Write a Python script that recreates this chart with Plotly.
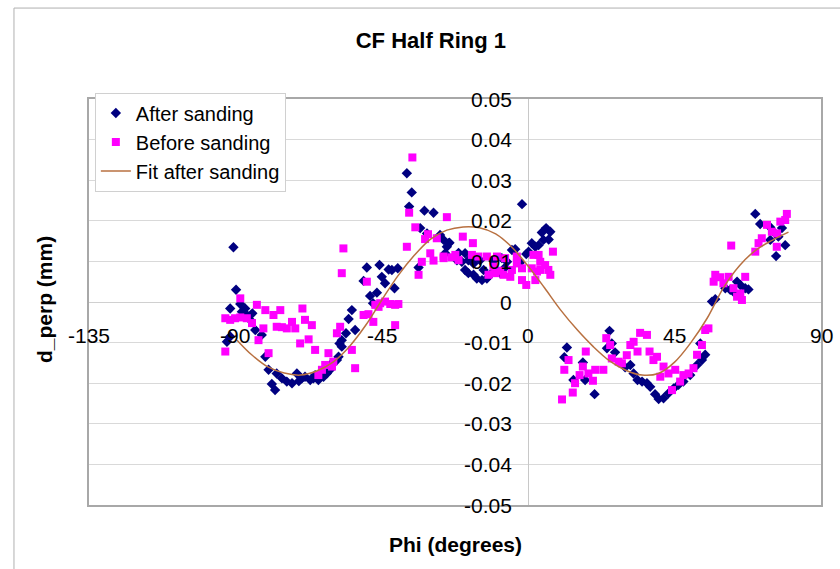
import plotly.graph_objects as go

# ---------------- data ----------------
after_phi = [
    -90.6, -89.8, -91.6, -88.5, -87.0, -88.0, -86.5, -84.8, -85.5, -83.9, -92.6, -91.6, -81.9, -80.8,
    -79.8, -77.3, -78.8, -77.8, -75.7, -74.2, -72.6, -71.1, -69.6, -68.6, -67.0, -65.5, -64.5, -62.9,
    -61.9, -60.9, -59.9, -58.3, -57.3, -70.5, -66.0,
    -37.3, -35.8, -36.6, -31.9, -29.1, -33.2, -31.1, -27.1, -24.5, -25.5, -21.9, -33.7, -49.6, -45.7,
    -42.9, -41.9, -40.1, -45.0, -50.6, -44.0, -41.1, -46.5, -48.6, -47.7, -54.2, -55.2, -53.2, -56.0,
    -57.3, -58.0, -58.8, -60.3,
    -1.9, 5.5, 4.2, 6.8, 6.3, 4.7, 3.2, 2.2, 1.1, 0.1, -0.6, -4.0, -5.0, -2.5, -26.0, -24.2, -25.0,
    -21.4, -19.4, -20.4, -18.4, -16.8, -14.8, -10.7, -8.1, -6.5, -19.4, -18.4, -16.8, -15.8, -14.2,
    -12.7, -11.7, -10.1, -8.6, -7.1, -13.7,
    11.9, 11.1, 16.8, 13.9, 17.5, 20.4, 25.0, 24.2, 26.7, 25.7, 29.8, 31.4, 32.4, 33.6, 35.0, 36.5,
    37.5, 39.0, 40.1, 41.6, 43.1, 44.7, 46.2, 47.7, 49.8, 51.9, 53.4, 54.4, 52.9,
    69.8, 71.3, 74.4, 78.0, 76.9, 74.4, 79.0, 76.2, 75.9, 64.2, 65.2, 66.7, 67.7, 62.1, 60.6, 63.1,
    57.5, 56.5,
]
after_d = [
    0.0135, 0.0030, -0.0016, -0.0005, -0.0016, -0.0024, -0.0032, -0.0028, -0.0044, -0.0069, -0.0098, -0.0085, -0.0081, -0.0135,
    -0.0167, -0.0176, -0.0202, -0.0217, -0.0188, -0.0196, -0.0200, -0.0176, -0.0188, -0.0184, -0.0192, -0.0180, -0.0192, -0.0184,
    -0.0176, -0.0167, -0.0151, -0.0135, -0.0110, -0.0195, -0.0188,
    0.0317, 0.0270, 0.0235, 0.0225, 0.0220, 0.0182, 0.0169, 0.0165, 0.0145, 0.0120, 0.0103, 0.0085, 0.0085, 0.0091,
    0.0080, 0.0079, 0.0083, 0.0062, 0.0052, 0.0046, 0.0034, 0.0023, 0.0015, -0.0003, -0.0020, -0.0042, -0.0069, -0.0077,
    -0.0094, -0.0102, -0.0143, -0.0150,
    0.0241, 0.0182, 0.0171, 0.0173, 0.0154, 0.0153, 0.0140, 0.0136, 0.0145, 0.0124, 0.0118, 0.0130, 0.0128, 0.0097, 0.0153, 0.0146, 0.0136,
    0.0121, 0.0120, 0.0099, 0.0103, 0.0095, 0.0103, 0.0101, 0.0108, 0.0099, 0.0079, 0.0071, 0.0067, 0.0058, 0.0054,
    0.0058, 0.0067, 0.0075, 0.0071, 0.0085, 0.0079,
    -0.0112, -0.0136, -0.0149, -0.0192, -0.0192, -0.0227, -0.0071, -0.0114, -0.0124, -0.0102, -0.0161, -0.0155, -0.0176, -0.0192, -0.0196, -0.0200,
    -0.0209, -0.0227, -0.0239, -0.0237, -0.0225, -0.0213, -0.0204, -0.0196, -0.0180, -0.0155, -0.0143, -0.0130, -0.0102,
    0.0217, 0.0192, 0.0184, 0.0182, 0.0161, 0.0153, 0.0140, 0.0113, 0.0169, 0.0050, 0.0042, 0.0034, 0.0031, 0.0030, 0.0034, 0.0025,
    0.0007, 0.0001,
]

before_phi = [
    -88.5, -93.1, -91.6, -90.1, -88.5, -86.5, -84.9, -83.4, -80.8, -78.3, -76.2, -93.1, -82.9, -81.4,
    -79.8, -77.3, -75.7, -74.2, -72.6, -71.6, -69.4, -68.6, -66.5, -70.1, -67.5, -65.5, -61.4, -62.4,
    -63.4, -64.5, -60.3, -59.9, -57.8, -57.3, -56.8,
    -35.6, -36.6, -34.7, -37.3, -25.0, -30.8, -31.7, -28.1, -30.1, -32.7, -29.1, -33.7, -26.0, -23.5,
    -49.6, -47.0, -45.5, -44.0, -42.4, -40.9, -39.9, -46.0, -50.6, -49.1, -47.6, -40.9, -58.8, -54.2, -53.2,
    -20.1, -17.0, -26.0, -22.4, -21.4, -17.3, -15.3, -12.7, -9.6, -7.1, -10.7, -12.2, -10.1, -8.6, -7.6,
    -5.5, -5.0, -3.5, -3.5, -1.9, -1.9, -0.6, 1.6, 3.2, 3.7, 1.1, 2.7, 3.7, 5.2, 6.2, 6.8, 2.2, 7.6,
    10.4, 13.7, 14.4, 11.1, 12.4, 15.8, 16.8, 17.7, 18.5, 19.9, 20.6, 23.1, 24.0, 25.2, 25.7, 27.8,
    28.8, 30.3, 31.4, 32.4, 33.6, 34.4, 36.5, 37.3, 38.5, 39.6, 40.6, 41.6, 43.1, 45.2, 44.2, 46.7,
    47.7, 49.3, 50.8, 51.9, 53.4, 54.4, 55.4,
    79.5, 79.0, 73.4, 74.9, 76.5, 77.5, 71.8, 70.8, 69.8, 62.4, 57.5, 59.0, 61.6, 57.0, 60.0, 66.7,
    63.1, 65.2, 65.7, 64.2, 76.4,
]
before_d = [
    0.0009, -0.0040, -0.0044, -0.0040, -0.0038, -0.0040, -0.0052, -0.0007, -0.0020, -0.0032, -0.0020, -0.0122, -0.0094, -0.0065,
    -0.0126, -0.0061, -0.0062, -0.0065, -0.0049, -0.0065, -0.0016, -0.0044, -0.0057, -0.0102, -0.0092, -0.0118, -0.0126, -0.0155,
    -0.0167, -0.0180, -0.0159, -0.0147, -0.0061, 0.0071, 0.0132,
    0.0356, 0.0220, 0.0184, 0.0136, 0.0209, 0.0167, 0.0155, 0.0157, 0.0120, 0.0099, 0.0102, 0.0067, 0.0108, 0.0110,
    0.0050, -0.0007, -0.0003, 0.0001, -0.0005, -0.0007, -0.0005, -0.0012, -0.0032, -0.0030, -0.0049, -0.0057, -0.0077, -0.0118, -0.0163,
    0.0161, 0.0145, 0.0112, 0.0116, 0.0103, 0.0116, 0.0112, 0.0112, 0.0112, 0.0108, 0.0087, 0.0067, 0.0071, 0.0077, 0.0067,
    0.0062, 0.0079, 0.0112, 0.0095, 0.0083, 0.0054, 0.0042, 0.0116, 0.0116, 0.0099, 0.0083, 0.0075, 0.0079, 0.0091, 0.0079, 0.0067, 0.0054, 0.0124,
    -0.0240, -0.0223, -0.0200, -0.0167, -0.0143, -0.0180, -0.0159, -0.0122, -0.0176, -0.0194, -0.0167, -0.0167, -0.0089, -0.0106, -0.0139, -0.0147,
    -0.0151, -0.0131, -0.0106, -0.0098, -0.0122, -0.0076, -0.0081, -0.0122, -0.0143, -0.0135, -0.0184, -0.0159, -0.0176, -0.0167, -0.0217, -0.0196,
    -0.0180, -0.0176, -0.0163, -0.0130, -0.0106, -0.0069, -0.0065,
    0.0217, 0.0202, 0.0190, 0.0173, 0.0169, 0.0198, 0.0157, 0.0145, 0.0124, 0.0139, 0.0067, 0.0061, 0.0062, 0.0050, 0.0046, 0.0062,
    0.0034, 0.0021, 0.0005, 0.0013, 0.0136,
]

fit_phi = [-89.5, -85, -80, -75, -70, -65, -60, -55, -50, -45, -40, -35, -30, -25, -20, -15, -10, -5,
           0, 5, 10, 15, 20, 25, 30, 35, 40, 45, 50, 55, 60, 65, 70, 75, 80]
fit_d = [-0.0094, -0.0130, -0.0160, -0.0175, -0.0180, -0.0170, -0.0148, -0.0110, -0.0058, 0.0005,
         0.0065, 0.0115, 0.0155, 0.0177, 0.0185, 0.0183, 0.0168, 0.0135, 0.0088, 0.0035, -0.0020,
         -0.0068, -0.0110, -0.0145, -0.0168, -0.0180, -0.0176, -0.0148, -0.0100, -0.0040, 0.0035,
         0.0090, 0.0128, 0.0152, 0.0172]

x_ticks = [-135, -90, -45, 0, 45, 90]
x_tick_labels = ["-135", "-90", "-45", "0", "45", "90"]
y_ticks = [0.05, 0.04, 0.03, 0.02, 0.01, 0.0, -0.01, -0.02, -0.03, -0.04, -0.05]
y_tick_labels = ["0.05", "0.04", "0.03", "0.02", "0.01", "0", "-0.01", "-0.02", "-0.03", "-0.04", "-0.05"]

FONT = "Liberation Sans, Arial, sans-serif"

fig = go.Figure()
fig.add_trace(go.Scatter(
    x=after_phi, y=after_d, mode="markers", name="After sanding",
    marker=dict(symbol="diamond", size=8, color="#000080", line=dict(width=0)),
))
fig.add_trace(go.Scatter(
    x=before_phi, y=before_d, mode="markers", name="Before sanding",
    marker=dict(symbol="square", size=8, color="#FF00FF", line=dict(width=0)),
))
fig.add_trace(go.Scatter(
    x=fit_phi, y=fit_d, mode="lines", name="Fit after sanding",
    line=dict(color="#B87040", width=1.5, shape="spline"),
))

annotations = []
for v, t in zip(y_ticks, y_tick_labels):
    annotations.append(dict(x=0, y=v, xref="x", yref="y", text=t, showarrow=False,
                            xanchor="right", yanchor="middle", xshift=-14,
                            font=dict(family=FONT, size=21, color="black")))
for v, t in zip(x_ticks, x_tick_labels):
    annotations.append(dict(x=v, y=0, xref="x", yref="y", text=t, showarrow=False,
                            xanchor="center", yanchor="middle", yshift=-33,
                            font=dict(family=FONT, size=21, color="black")))
annotations.append(dict(x=0.5, y=-0.098, xref="paper", yref="paper", text="<b>Phi (degrees)</b>",
                        showarrow=False, xanchor="center", yanchor="middle",
                        font=dict(family=FONT, size=21, color="black")))
annotations.append(dict(x=-0.060, y=0.505, xref="paper", yref="paper", text="<b>d_perp (mm)</b>",
                        showarrow=False, xanchor="center", yanchor="middle", textangle=-90,
                        font=dict(family=FONT, size=21, color="black")))

fig.update_layout(
    width=840, height=569,
    margin=dict(l=89, r=19, t=99, b=64),
    paper_bgcolor="white", plot_bgcolor="white",
    title=dict(text="<b>CF Half Ring 1</b>", x=0.513, y=0.93, xref="container", yref="container",
               xanchor="center", yanchor="middle", font=dict(family=FONT, size=22, color="black")),
    xaxis=dict(range=[-135, 90], showticklabels=False, ticks="", showgrid=False,
               zeroline=True, zerolinecolor="#c8c8c8", zerolinewidth=1,
               showline=True, mirror=True, linecolor="#a8a8a8", linewidth=2),
    yaxis=dict(range=[-0.05, 0.05], dtick=0.01, tick0=0, showticklabels=False, ticks="",
               showgrid=True, gridcolor="#d9d9d9", gridwidth=1,
               zeroline=True, zerolinecolor="#d0d0d0", zerolinewidth=1,
               showline=True, mirror=True, linecolor="#a8a8a8", linewidth=2),
    legend=dict(x=0.008, y=1.016, xanchor="left", yanchor="top", bgcolor="white",
                bordercolor="#d0d0d0", borderwidth=1, itemwidth=30,
                font=dict(family=FONT, size=20, color="black"), tracegroupgap=0),
    annotations=annotations,
    shapes=[dict(type="rect", xref="paper", yref="paper", x0=-0.1025, x1=1.04, y0=-0.2, y1=1.224,
                 line=dict(color="#b0b0b0", width=1), fillcolor="rgba(0,0,0,0)", layer="below")],
    showlegend=True,
)

fig.write_html(
    "out.html",
    config={"displayModeBar": False},
    post_script="document.body.style.margin='0';document.body.style.padding='0';document.body.style.overflow='hidden';",
)
